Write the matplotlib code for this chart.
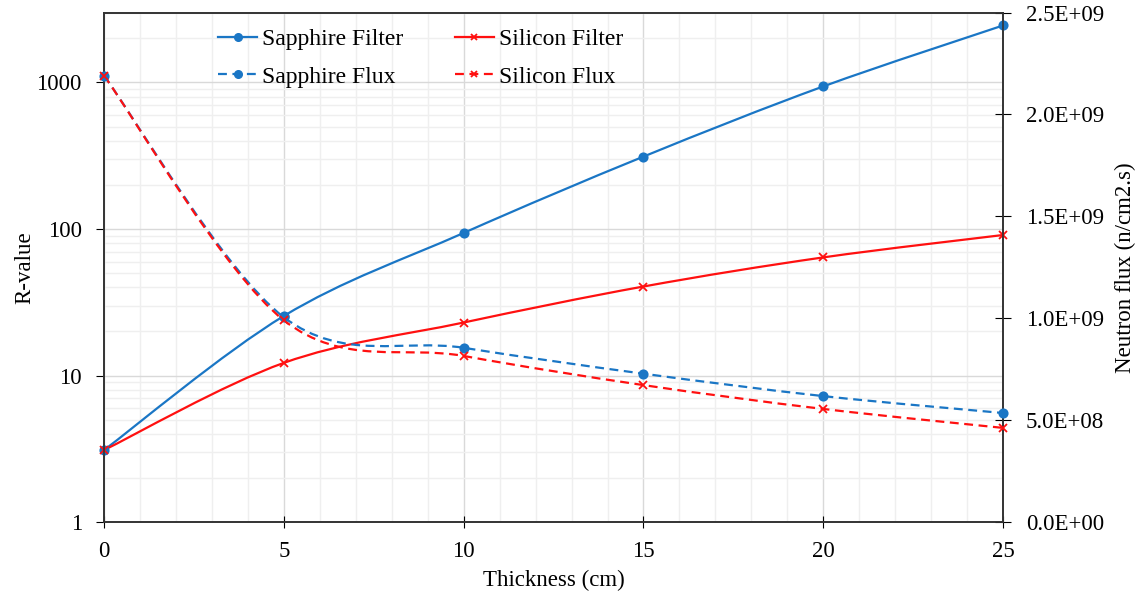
import numpy as np
import matplotlib
matplotlib.use("Agg")
import matplotlib.pyplot as plt
from matplotlib.path import Path
from matplotlib.patches import PathPatch
from matplotlib.lines import Line2D
from matplotlib.ticker import FixedLocator, MultipleLocator, LogLocator, NullFormatter, FuncFormatter

plt.rcParams['font.family'] = ['Liberation Serif', 'DejaVu Serif']

# data
thickness = [0, 5, 10, 15, 20, 25]
sapphire_filter = [3.1, 25.5, 94, 312, 940, 2450]
silicon_filter = [3.1, 12.2, 23, 40.5, 64, 91]
sapphire_flux = [2.19e9, 1.005e9, 0.855e9, 0.728e9, 0.618e9, 0.535e9]
silicon_flux = [2.19e9, 0.99e9, 0.815e9, 0.672e9, 0.555e9, 0.462e9]

BLUE = "#1a76c5"
RED = "#ff1010"
DASH = (0, (4, 2.5))


def smooth_path(x, y, log=False):
    # Excel-style smoothed line as cubic bezier segments
    x = np.asarray(x, float)
    y = np.asarray(y, float)
    yy = np.log10(y) if log else y
    n = len(x)
    verts = [(x[0], yy[0])]
    codes = [Path.MOVETO]
    for i in range(n - 1):
        p0 = (x[max(i - 1, 0)], yy[max(i - 1, 0)])
        p1 = (x[i], yy[i])
        p2 = (x[i + 1], yy[i + 1])
        p3 = (x[min(i + 2, n - 1)], yy[min(i + 2, n - 1)])
        c1 = (p1[0] + (p2[0] - p0[0]) / 6, p1[1] + (p2[1] - p0[1]) / 6)
        c2 = (p2[0] - (p3[0] - p1[0]) / 6, p2[1] - (p3[1] - p1[1]) / 6)
        verts += [c1, c2, p2]
        codes += [Path.CURVE4] * 3
    verts = np.array(verts)
    if log:
        verts[:, 1] = 10 ** verts[:, 1]
    return Path(verts, codes)


dpi = 100
fig = plt.figure(figsize=(1146 / dpi, 598 / dpi), dpi=dpi)
ax = fig.add_axes([0.0908, 0.127, 0.7845, 0.852])
ax2 = ax.twinx()

ax.set_yscale("log")
ax.set_xlim(0, 25)
ax.set_ylim(1, 3000)
ax2.set_ylim(0, 2.5e9)

# grid
ax.xaxis.set_major_locator(MultipleLocator(5))
ax.xaxis.set_minor_locator(MultipleLocator(1))
ax.yaxis.set_major_locator(FixedLocator([1, 10, 100, 1000]))
ax.yaxis.set_minor_locator(LogLocator(base=10, subs=np.arange(2, 10)))
ax.yaxis.set_minor_formatter(NullFormatter())
ax.yaxis.set_major_formatter(FuncFormatter(lambda v, p: f"{v:g}"))
ax.grid(which="major", color="#d9d9d9", lw=1.0)
ax.grid(which="minor", color="#efefef", lw=1.0)
ax.set_axisbelow(True)

# filter lines (left axis)
for yv, col, mk, ms in [(sapphire_filter, BLUE, "o", 6), (silicon_filter, RED, "x", 5.5)]:
    ax.add_patch(PathPatch(smooth_path(thickness, yv, log=True), fill=False,
                           edgecolor=col, lw=1.6, zorder=3))
    ax.plot(thickness, yv, linestyle="none", marker=mk, color=col, ms=ms,
            mew=1.3, zorder=4, clip_on=False)

# flux lines (right axis)
for yv, col, mk, ms in [(sapphire_flux, BLUE, "o", 6), (silicon_flux, RED, "x", 5.5)]:
    ax2.add_patch(PathPatch(smooth_path(thickness, yv), fill=False, edgecolor=col,
                            lw=1.6, linestyle=DASH, zorder=3))
    ax2.plot(thickness, yv, linestyle="none", marker=mk, color=col, ms=ms,
             mew=1.3, zorder=4, clip_on=False)

ax2.yaxis.set_major_locator(MultipleLocator(0.5e9))
ax2.yaxis.set_major_formatter(FuncFormatter(lambda v, p: f"{v:.1E}"))

for a in (ax, ax2):
    for s in a.spines.values():
        s.set_color("#333333")
        s.set_linewidth(1.2)
ax.tick_params(axis="x", which="major", direction="inout", length=8, labelsize=16.5, pad=10)
ax.tick_params(axis="x", which="minor", length=0)
ax.tick_params(axis="y", which="major", direction="out", length=6, labelsize=16.5, pad=10)
ax.tick_params(axis="y", which="minor", length=0)
ax2.tick_params(axis="y", direction="inout", length=11, labelsize=16.5, pad=11)

ax.set_xlabel("Thickness (cm)", fontsize=16.5, labelpad=5)
ax.set_ylabel("R-value", fontsize=16.5, labelpad=1)
ax2.set_ylabel("Neutron flux (n/cm2.s)", fontsize=16.5, labelpad=8)

handles = [
    Line2D([], [], color=BLUE, lw=1.6, marker="o", ms=5.5, label="Sapphire Filter"),
    Line2D([], [], color=BLUE, lw=1.6, ls=DASH, marker="o", ms=5.5, label="Sapphire Flux"),
    Line2D([], [], color=RED, lw=1.6, marker="x", ms=4, mew=1.3, label="Silicon Filter"),
    Line2D([], [], color=RED, lw=1.6, ls=DASH, marker="x", ms=4, mew=1.3, label="Silicon Flux"),
]
ax2.legend(handles=handles, ncol=2, frameon=False, fontsize=17, loc="upper left",
           bbox_to_anchor=(0.1163, 0.987), borderaxespad=0, handlelength=1.65,
           columnspacing=2.2, labelspacing=0.68, handletextpad=0.2)

fig.savefig("out.png", dpi=dpi)
